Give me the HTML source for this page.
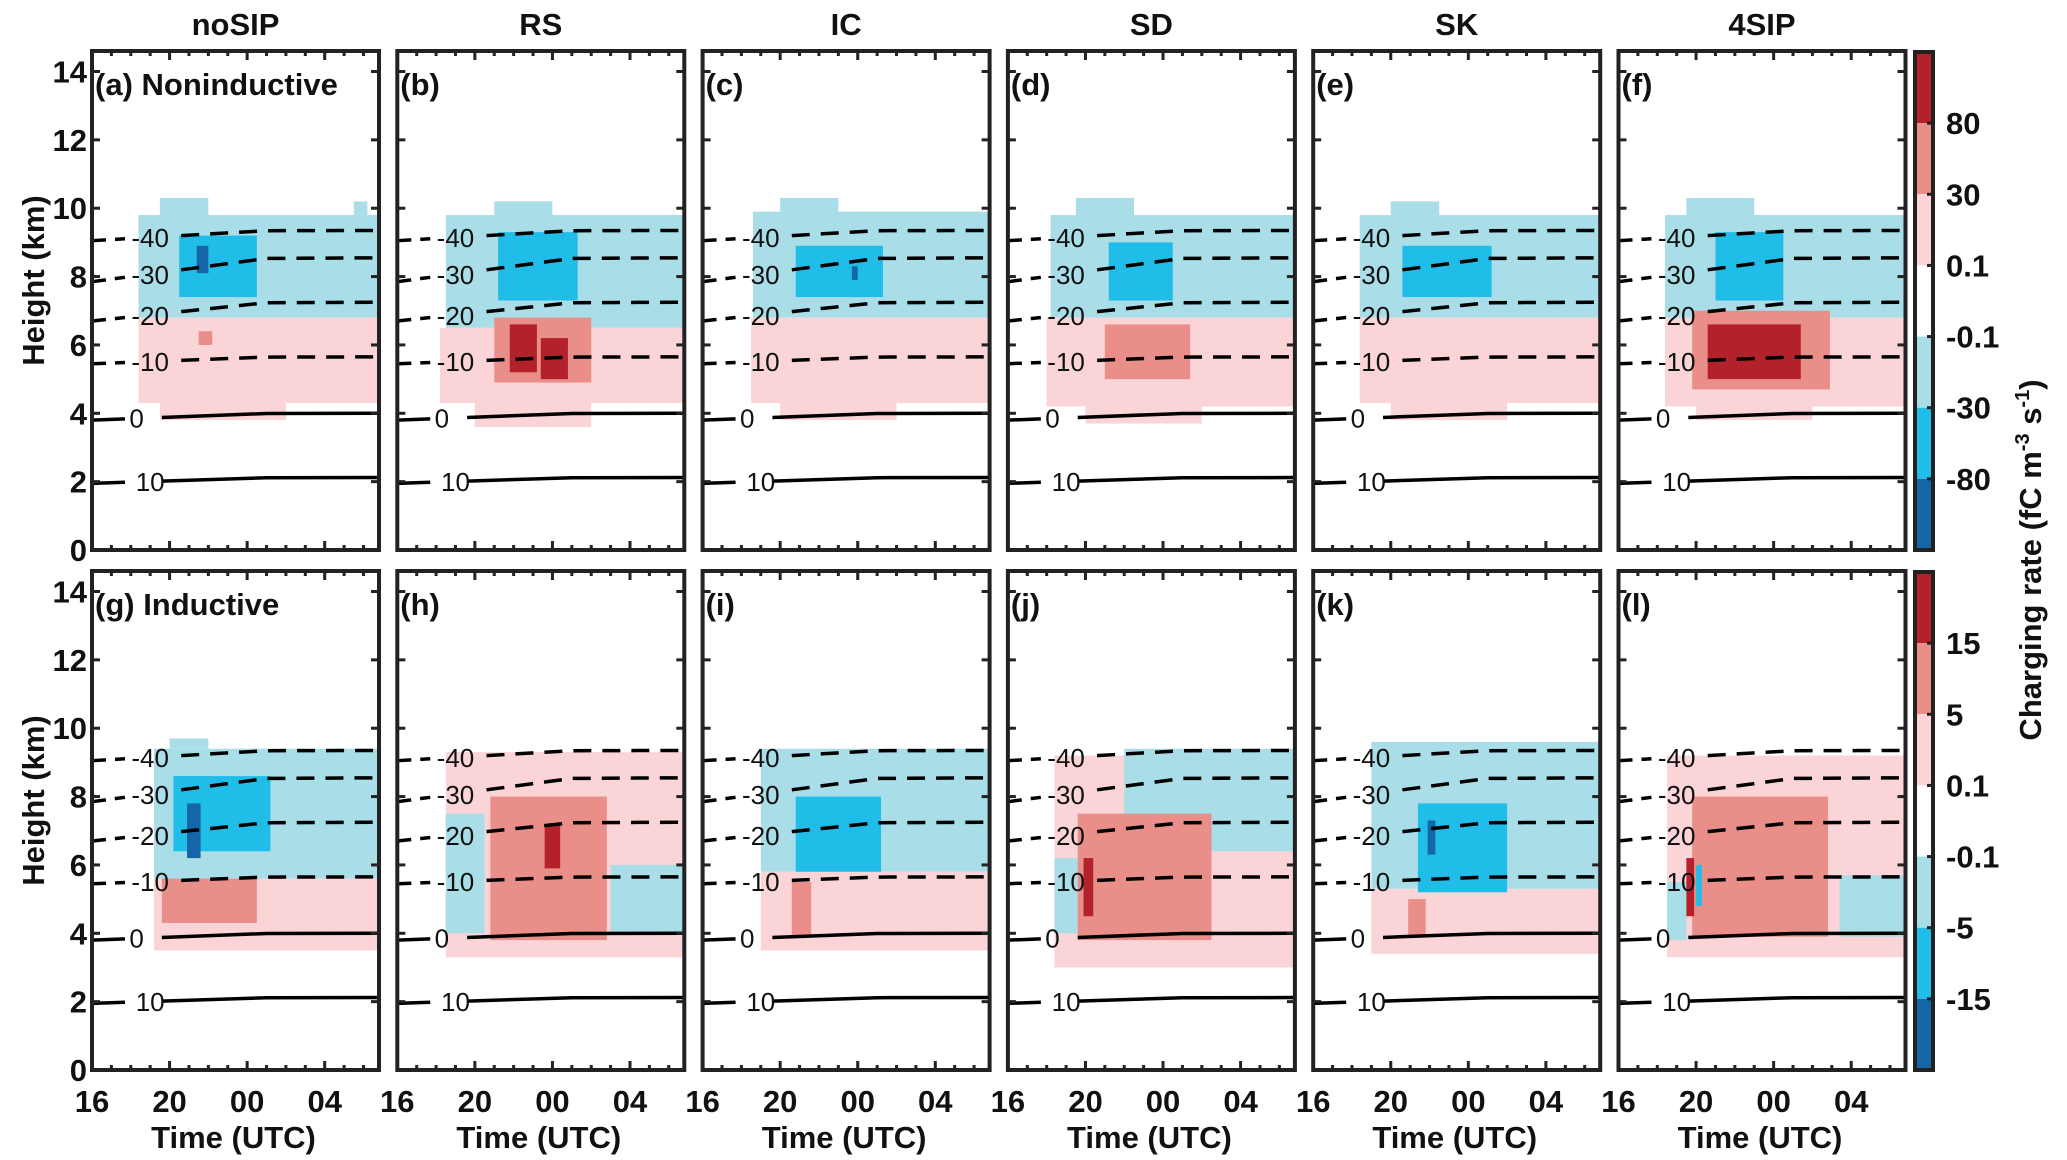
<!DOCTYPE html>
<html><head><meta charset="utf-8"><style>
html,body{margin:0;padding:0;background:#fff;}
svg{display:block;font-family:"Liberation Sans",Arial,sans-serif;}
</style></head><body>
<svg id="fig" width="2067" height="1160" viewBox="0 0 2067 1160" xmlns="http://www.w3.org/2000/svg"></svg>
<script>
// ---- data ----
const schemes = ["noSIP","RS","IC","SD","SK","4SIP"];
const rowLabels = [["(a) Noninductive","(b)","(c)","(d)","(e)","(f)"],["(g) Inductive","(h)","(i)","(j)","(k)","(l)"]];
const yTicks = [0,2,4,6,8,10,12,14];
const xTickHours = [0,4,8,12];
const xTickLabels = ["16","20","00","04"];
const cbLabelsTop = ["80","30","0.1","-0.1","-30","-80"];
const cbLabelsBot = ["15","5","0.1","-0.1","-5","-15"];
const levelColors = ["#b3222b","#e98e88","#fad4d6","#ffffff","#a9dde7","#20bde9","#1566a8"];
// isotherms
const isoLabels = ["-40","-30","-20","-10","0","10"];
const isoStart = [9.05,7.85,6.7,5.45,3.8,1.95];
const isoEnd = [9.35,8.55,7.25,5.65,4.0,2.12];
// regions per panel: [t0,t1,zBottom,zTop,level] (t in hours since 16 UTC)
const fieldsTop = [
 [[2.4,14.8,6.8,9.8,4],[3.5,6,9.8,10.3,4],[13.5,14.2,9.8,10.2,4],[2.4,14.8,4.3,6.8,2],[3.5,10,3.8,4.3,2],[4.5,8.5,7.4,9.2,5],[5.4,6.0,8.1,8.9,6],[5.5,6.2,6.0,6.4,1]],
 [[2.5,14.8,6.5,9.8,4],[5,8,9.8,10.2,4],[2.2,14.8,4.3,6.5,2],[4,10,3.6,4.3,2],[5.2,9.3,7.3,9.3,5],[5,10,4.9,6.8,1],[5.8,7.2,5.2,6.6,0],[7.4,8.8,5.0,6.2,0]],
 [[2.6,14.8,6.8,9.9,4],[4,7,9.9,10.3,4],[2.5,14.8,4.3,6.8,2],[4,10,3.8,4.3,2],[4.8,9.3,7.4,8.9,5],[7.7,8.0,7.9,8.3,6]],
 [[2.2,14.8,6.8,9.8,4],[3.5,6.5,9.8,10.3,4],[2.0,14.8,4.2,6.8,2],[4,10,3.7,4.2,2],[5.2,8.5,7.3,9.0,5],[5,9.4,5.0,6.6,1]],
 [[2.4,14.8,6.8,9.8,4],[4,6.5,9.8,10.2,4],[2.4,14.8,4.3,6.8,2],[4,10,3.8,4.3,2],[4.6,9.2,7.4,8.9,5]],
 [[2.4,14.8,6.8,9.8,4],[3.5,7,9.8,10.3,4],[2.4,14.8,4.2,6.8,2],[4,10,3.8,4.2,2],[5,8.5,7.3,9.3,5],[3.8,10.9,4.7,7.0,1],[4.6,9.4,5.0,6.6,0]]
];
const fieldsBot = [
 [[3.2,14.8,5.6,9.4,4],[3.2,14.8,3.5,5.6,2],[4,6,9.4,9.7,4],[3.6,8.5,4.3,5.6,1],[4.2,9.2,6.4,8.6,5],[4.9,5.6,6.2,7.8,6]],
 [[2.5,14.8,3.3,9.3,2],[2.5,4.5,4.0,7.5,4],[11,14.8,4.0,6.0,4],[4.8,10.8,3.8,8.0,1],[7.6,8.4,5.9,7.2,0]],
 [[3,14.8,5.8,9.4,4],[3,14.8,3.5,5.8,2],[4.8,9.2,5.8,8.0,5],[4.6,5.6,3.9,5.5,1]],
 [[2.4,14.8,3.0,9.2,2],[6,14.8,6.4,9.4,4],[2.4,3.6,4.0,6.2,4],[3.6,10.5,3.8,7.5,1],[3.9,4.4,4.5,6.2,0]],
 [[3,14.8,5.3,9.6,4],[3,14.8,3.4,5.3,2],[5.4,10,5.2,7.8,5],[5.9,6.3,6.3,7.3,6],[4.9,5.8,3.9,5.0,1]],
 [[2.5,14.8,3.3,9.2,2],[3.8,10.8,3.9,8.0,1],[11.4,14.8,3.9,5.7,4],[2.5,3.5,3.8,5.5,4],[3.5,3.9,4.5,6.2,0],[4.0,4.3,4.8,6.0,5]]
];
// ---- layout ----
const NS="http://www.w3.org/2000/svg";
const svg=document.getElementById('fig');
const PW=287, PH=499, X0=92, DX=305.3, ROWY=[51,571];
const TMAX=14.8, ZMAX=14.6;
function el(tag,attrs,parent){const e=document.createElementNS(NS,tag);for(const k in attrs)e.setAttribute(k,attrs[k]);(parent||svg).appendChild(e);return e;}
function txt(s,x,y,size,weight,anchor,parent){const t=el('text',{x:x,y:y,'font-size':size,'font-weight':weight,'text-anchor':anchor||'middle',fill:'#111'},parent);t.textContent=s;return t;}

for(let r=0;r<2;r++){
 for(let c=0;c<6;c++){
  const px=X0+c*DX, py=ROWY[r];
  const xs=t=>px+t/TMAX*PW;
  const ys=z=>py+PH-z/ZMAX*PH;
  const g=el('g',{});
  
  
  const fields=(r===0?fieldsTop:fieldsBot)[c];
  fields.forEach(f=>{
   const rc=el('rect',{x:xs(f[0]),y:ys(f[3]),width:xs(f[1])-xs(f[0]),height:ys(f[2])-ys(f[3]),fill:levelColors[f[4]]},g);
   
   
  });
  for(let i=0;i<isoLabels.length;i++){
   const zAt=t=>isoStart[i]+(isoEnd[i]-isoStart[i])*Math.min(1,t/TMAX*1.6);
   const dashed=i<4;
   const st={stroke:'#000','stroke-width':3.5,fill:'none'};
   const st1=Object.assign({},st);
   if(dashed){st['stroke-dasharray']='18 11';st1['stroke-dasharray']='14 9';}
   const l1=el('path',Object.assign({d:`M${xs(0)},${ys(isoStart[i])} L${xs(1.7)},${ys(zAt(1.7))}`},st1),g);
   
   
   const t0=dashed?4.6:3.6;
   const l2=el('path',Object.assign({d:`M${xs(t0)},${ys(zAt(t0))} L${xs(9)},${ys(zAt(9))} L${xs(TMAX)},${ys(isoEnd[i])}`},st),g);
   
   
   const lb=txt(isoLabels[i],xs(dashed?3.0:(i===4?2.3:3.0)),ys(zAt(2.5))+9,26,'normal','middle',g);
   
   
  }
  const fr=el('rect',{x:px,y:py,width:PW,height:PH,fill:'none',stroke:'#222','stroke-width':4},g);
  
  
  for(let h=0;h<=14;h++){
   const L=h%4===0?9:5;
   el('line',{x1:xs(h),x2:xs(h),y1:py,y2:py+L,stroke:'#222','stroke-width':3},g);
   el('line',{x1:xs(h),x2:xs(h),y1:py+PH,y2:py+PH-L,stroke:'#222','stroke-width':3},g);
  }
  yTicks.forEach(z=>{
   el('line',{x1:px,x2:px+8,y1:ys(z),y2:ys(z),stroke:'#222','stroke-width':3},g);
   el('line',{x1:px+PW,x2:px+PW-8,y1:ys(z),y2:ys(z),stroke:'#222','stroke-width':3},g);
  });
  if(c===0){
   yTicks.forEach(z=>{const t=txt(String(z),px-5,ys(z)+11,31,'bold','end');
    
    });
   const yt=txt('Height (km)',0,0,31,'bold','middle');
   yt.setAttribute('transform',`translate(44,${py+PH/2-20}) rotate(-90)`);
   
   
  }
  const pl=txt(rowLabels[r][c],px+3,py+44,31,'bold','start');
  
  
  if(r===0){const st=txt(schemes[c],px+PW/2,35,31,'bold');
   
   }
  if(r===1){
   xTickHours.forEach((h,k)=>{const t=txt(xTickLabels[k],xs(h),py+PH+42,31,'bold');
    
    });
   const xt=txt('Time (UTC)',px+PW/2-2,py+PH+78,31,'bold');
   
   
  }
 }
 const cx=1915, cw=18, cy=ROWY[r]+1, ch=PH-1, bh=ch/7;
 const cb=el('g',{});
 
 
 levelColors.forEach((col,i)=>el('rect',{x:cx,y:cy+i*bh,width:cw,height:bh,fill:col},cb));
 el('rect',{x:cx,y:cy,width:cw,height:ch,fill:'none',stroke:'#222','stroke-width':4},cb);
 (r===0?cbLabelsTop:cbLabelsBot).forEach((s,i)=>{
  el('line',{x1:cx+cw-6,x2:cx+cw,y1:cy+(i+1)*bh,y2:cy+(i+1)*bh,stroke:'#222','stroke-width':3},cb);
  const t=txt(s,cx+cw+13,cy+(i+1)*bh+11,31,'bold','start',cb);
  
  
 });
}
const ct=el('text',{'font-size':31,'font-weight':'bold','text-anchor':'middle',fill:'#111',transform:'translate(2041,560) rotate(-90)'});


ct.innerHTML='Charging rate (fC m<tspan dy="-12" font-size="20">-3</tspan><tspan dy="12"> s</tspan><tspan dy="-12" font-size="20">-1</tspan><tspan dy="12">)</tspan>';
</script>
</body></html>
